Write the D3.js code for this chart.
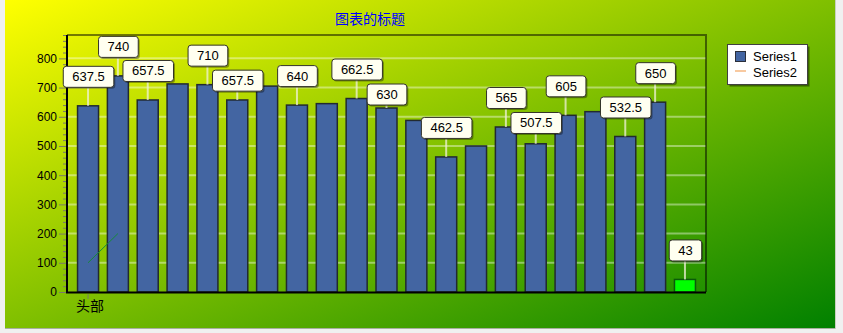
<!DOCTYPE html>
<html>
<head>
<meta charset="utf-8">
<script src="https://cdn.jsdelivr.net/npm/d3@7"></script>
<style>
  body { margin: 0; background: #f0f0f0; }
  svg { display: block; }
</style>
</head>
<body>
<div id="chart"></div>
<script>
// chart data
const title = "图表的标题";
const categories = ["头部", "", "", "", "", "", "", "", "", "", "", "", "", "", "", "", "", "", "", "", ""];
const series1 = [637.5, 740, 657.5, 712.5, 710, 657.5, 705, 640, 645, 662.5, 630, 587.5, 462.5, 500, 565, 507.5, 605, 617.5, 532.5, 650, 43];
// which points carry a visible value label (the others were dropped by the label overlap check)
const showLabel = [1, 1, 1, 0, 1, 1, 0, 1, 0, 1, 1, 0, 1, 0, 1, 1, 1, 0, 1, 1, 1];
const series2 = [100, 200];
const yTicks = [0, 100, 200, 300, 400, 500, 600, 700, 800];
const legendNames = ["Series1", "Series2"];

const W = 843, H = 333;
const plot = {left: 67, right: 706, top: 35, bottom: 292};
const HIGHLIGHT = series1.length - 1;   // last point drawn in green
const numFont = "'Liberation Sans', Arial, sans-serif";
const cjkFont = "'Noto Sans CJK SC', sans-serif";

const svg = d3.select("#chart").append("svg")
    .attr("width", W)
    .attr("height", H);

const defs = svg.append("defs");
const grad = defs.append("linearGradient")
    .attr("id", "bg")
    .attr("x1", "0%").attr("y1", "0%")
    .attr("x2", "100%").attr("y2", "100%");
grad.append("stop").attr("offset", "0%").attr("stop-color", "#ffff00");
grad.append("stop").attr("offset", "100%").attr("stop-color", "#008000");

// background
svg.append("rect")
    .attr("x", 5).attr("y", 0)
    .attr("width", 830).attr("height", 328)
    .attr("fill", "url(#bg)");
svg.append("line")
    .attr("x1", 5).attr("x2", 835).attr("y1", 328.5).attr("y2", 328.5)
    .attr("stroke", "#a8b0a0");
svg.append("line")
    .attr("x1", 835.5).attr("x2", 835.5).attr("y1", 0).attr("y2", 329)
    .attr("stroke", "#c8d0c0");

// scales
const x = d3.scalePoint()
    .domain(d3.range(series1.length))
    .range([plot.left, plot.right])
    .padding(0.705);

const y = d3.scaleLinear()
    .domain([0, 880])
    .range([plot.bottom, plot.top]);

const barW = 21;

// title
svg.append("text")
    .attr("x", 370)
    .attr("y", 24)
    .attr("text-anchor", "middle")
    .attr("font-family", cjkFont)
    .attr("font-size", 14)
    .attr("fill", "#0000ff")
    .text(title);

// gridlines
svg.append("g")
    .selectAll("line")
    .data(yTicks.filter(d => d > 0))
    .join("line")
    .attr("x1", plot.left).attr("x2", plot.right)
    .attr("y1", d => y(d)).attr("y2", d => y(d))
    .attr("stroke", "#ffffff")
    .attr("stroke-opacity", 0.4)
    .attr("stroke-width", 2);

// plot border (top / right)
svg.append("path")
    .attr("d", `M${plot.left},${plot.top} H${plot.right} V${plot.bottom}`)
    .attr("fill", "none")
    .attr("stroke", "#000")
    .attr("stroke-opacity", 0.5)
    .attr("stroke-width", 2);

// y axis
const yAxis = d3.axisLeft(y)
    .tickValues(yTicks)
    .tickSize(8)
    .tickPadding(2);
const yg = svg.append("g")
    .attr("transform", `translate(${plot.left},0)`)
    .call(yAxis);
yg.select(".domain").remove();
yg.selectAll(".tick line").attr("stroke", "#7a7a6a");
yg.selectAll(".tick text")
    .attr("font-family", numFont)
    .attr("font-size", 12)
    .attr("fill", "#000");

// minor ticks
const yMinor = d3.axisLeft(y)
    .tickValues(d3.range(0, 881, 20).filter(v => v % 100 !== 0))
    .tickSize(4)
    .tickFormat("");
const ym = svg.append("g")
    .attr("transform", `translate(${plot.left},0)`)
    .call(yMinor);
ym.select(".domain").remove();
ym.selectAll(".tick line").attr("stroke", "#7a7a6a");

// bars
svg.append("g")
    .selectAll("rect")
    .data(series1.map((v, i) => ({v, i})))
    .join("rect")
    .attr("x", d => x(d.i) - barW / 2)
    .attr("y", d => y(d.v))
    .attr("width", barW)
    .attr("height", d => y(0) - y(d.v))
    .attr("fill", d => d.i === HIGHLIGHT ? "#00ff00" : "#4365a2")
    .attr("stroke", d => d.i === HIGHLIGHT ? "#0a5a0a" : "#222a30")
    .attr("stroke-width", 1.5);

// x axis + y axis lines
svg.append("line")
    .attr("x1", plot.left - 1).attr("x2", plot.right)
    .attr("y1", plot.bottom + 0.5).attr("y2", plot.bottom + 0.5)
    .attr("stroke", "#000").attr("stroke-width", 2);
svg.append("line")
    .attr("x1", plot.left).attr("x2", plot.left)
    .attr("y1", plot.top).attr("y2", plot.bottom + 1)
    .attr("stroke", "#000").attr("stroke-width", 2);

const xl = svg.append("g")
    .selectAll("g")
    .data(categories.map((c, i) => ({c, i})).filter(d => d.c))
    .join("g")
    .attr("transform", d => `translate(${x(d.i)},${plot.bottom})`);
xl.append("line")
    .attr("y1", 2).attr("y2", 7)
    .attr("stroke", "#7a7a6a");
xl.append("text")
    .attr("x", 2)
    .attr("y", 19)
    .attr("text-anchor", "middle")
    .attr("font-family", cjkFont)
    .attr("font-size", 14)
    .attr("fill", "#000")
    .text(d => d.c);

// series2 line
svg.append("path")
    .datum(series2)
    .attr("d", d3.line().x((d, i) => x(i)).y(d => y(d)))
    .attr("fill", "none")
    .attr("stroke", "#168a3a")
    .attr("stroke-width", 1);

// value labels with simple overlap push-down
const labelG = svg.append("g");
const placed = [];
series1.forEach((v, i) => {
    if (!showLabel[i]) return;
    const cx = x(i);
    const top = y(v);
    const g = labelG.append("g");
    const txt = g.append("text")
        .attr("font-family", numFont)
        .attr("font-size", 13)
        .attr("text-anchor", "middle")
        .attr("fill", "#000")
        .text(d3.format("~f")(v));
    const tw = txt.node().getComputedTextLength();
    const bw = tw + 18, bh = 21;
    let box = {x0: cx - bw / 2, x1: cx + bw / 2, y0: top - 19 - bh, y1: top - 19};
    let moved = true;
    while (moved) {
        moved = false;
        for (const p of placed) {
            if (box.x0 < p.x1 && box.x1 > p.x0 && box.y0 < p.y1 && box.y1 > p.y0) {
                box.y0 = p.y1 + 4;
                box.y1 = box.y0 + bh;
                moved = true;
            }
        }
    }
    placed.push(box);

    g.insert("line", "text")
        .attr("x1", cx).attr("x2", cx)
        .attr("y1", box.y1).attr("y2", top)
        .attr("stroke", "#f0f0d8")
        .attr("stroke-opacity", 0.75)
        .attr("stroke-width", 2);
    g.insert("rect", "text")
        .attr("x", box.x0 + 2).attr("y", box.y0 + 2)
        .attr("width", bw).attr("height", bh)
        .attr("rx", 3)
        .attr("fill", "#000").attr("fill-opacity", 0.35);
    g.insert("rect", "text")
        .attr("x", box.x0 + 0.5).attr("y", box.y0 + 0.5)
        .attr("width", bw).attr("height", bh)
        .attr("rx", 3)
        .attr("fill", "#fffff0")
        .attr("stroke", "#33332a");
    txt.attr("x", cx + 0.5).attr("y", box.y0 + 15.5);
});

// legend
const lg = svg.append("g").attr("transform", "translate(727,44)");
lg.append("rect")
    .attr("x", 2.5).attr("y", 2.5)
    .attr("width", 80).attr("height", 40)
    .attr("fill", "#000").attr("fill-opacity", 0.45);
lg.append("rect")
    .attr("x", 0.5).attr("y", 0.5)
    .attr("width", 80).attr("height", 40)
    .attr("fill", "#fff")
    .attr("stroke", "#404040");
lg.append("rect")
    .attr("x", 8.5).attr("y", 7.5)
    .attr("width", 10).attr("height", 10)
    .attr("fill", "#4365a2")
    .attr("stroke", "#2b2f3a");
lg.append("line")
    .attr("x1", 8).attr("x2", 19)
    .attr("y1", 27).attr("y2", 27)
    .attr("stroke", "#f8c9a0")
    .attr("stroke-width", 2);
lg.selectAll("text.name")
    .data(legendNames)
    .join("text")
    .attr("class", "name")
    .attr("x", 26)
    .attr("y", (d, i) => 17 + i * 16)
    .attr("font-family", numFont)
    .attr("font-size", 13)
    .attr("fill", "#000")
    .text(d => d);
</script>
</body>
</html>
